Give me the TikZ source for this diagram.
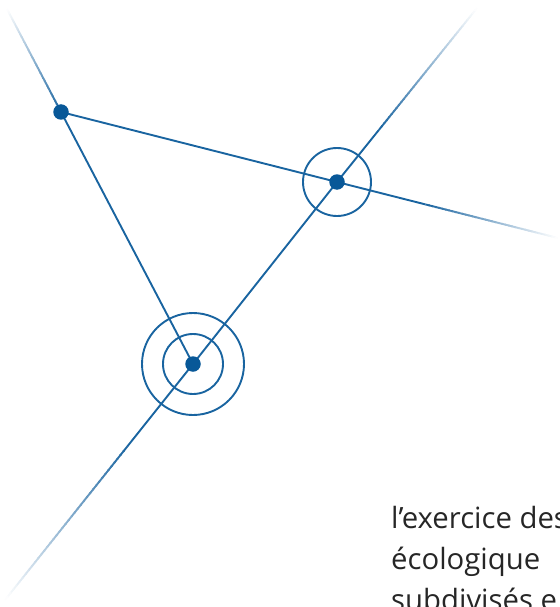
\documentclass[tikz,border=0pt]{standalone}
\usepackage{fontspec}
\setmainfont{Open Sans}
\usetikzlibrary{calc}
\definecolor{lineblue}{RGB}{25,100,160}
\definecolor{dotblue}{RGB}{8,88,152}
\tikzset{
  link/.style={draw=lineblue, line width=1.9pt},
  ring/.style={draw=lineblue, line width=1.9pt, fill=none},
  dot/.style={circle, fill=dotblue, inner sep=0pt, minimum size=15.5pt},
}
% draw a line from #1 (full colour) fading out to white at #2 in #3 steps
\newcommand\fadeline[3]{%
  \foreach \i in {1,...,#3}{%
    \pgfmathsetmacro\ta{(\i-1)/#3}%
    \pgfmathsetmacro\tb{min(1,(\i+0.3)/#3)}%
    \pgfmathtruncatemacro\pc{100*(1-(\i-0.5)/#3)}%
    \draw[link, draw=lineblue!\pc!white] ($(#1)!\ta!(#2)$) -- ($(#1)!\tb!(#2)$);
  }%
}
\begin{document}
\begin{tikzpicture}[x=1pt, y=-1pt]
  \useasboundingbox (0,0) rectangle (559,607);
  \clip (0,0) rectangle (559,607);

  % vertices
  \coordinate (Apos) at (61,112);
  \coordinate (Bpos) at (337,182);
  \coordinate (Cpos) at (193,364);

  % outer ends of the rays
  \coordinate (tl) at (7,9);
  \coordinate (tr) at (477,8);
  \coordinate (r)  at (558,238);
  \coordinate (bl) at (5,600);

  % where the rays start to fade
  \coordinate (f1) at ($(Cpos)!0.35!(bl)$);
  \coordinate (f2) at ($(Bpos)!0.30!(tr)$);
  \coordinate (f3) at ($(Bpos)!0.40!(r)$);

  % solid edges
  \draw[link] (Apos) -- (Bpos) -- (f3);
  \draw[link] (Apos) -- (Cpos);
  \draw[link] (f1) -- (Cpos) -- (Bpos) -- (f2);

  % fading rays
  \fadeline{Apos}{tl}{40}
  \fadeline{f1}{bl}{40}
  \fadeline{f2}{tr}{40}
  \fadeline{f3}{r}{40}

  % rings
  \draw[ring] (Bpos) circle[radius=34];
  \draw[ring] (Cpos) circle[radius=30];
  \draw[ring] (Cpos) circle[radius=51];

  % dots
  \node[dot] (A) at (Apos) {};
  \node[dot] (B) at (Bpos) {};
  \node[dot] (C) at (Cpos) {};

  % text (base anchor sits on the last line)
  \node[anchor=base west, inner sep=0pt, align=left,
        font=\fontsize{29.3pt}{41pt}\selectfont, text=black!85]
    (txt) at (391,610) {l’exercice des\\écologique\\subdivisés e};
\end{tikzpicture}
\end{document}
